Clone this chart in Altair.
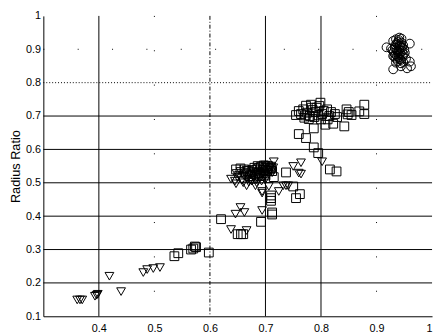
import altair as alt
import pandas as pd

# ---- data: circles ----
circ_x = [0.930, 0.935, 0.940, 0.945, 0.938, 0.942, 0.933, 0.948, 0.936, 0.941,
          0.944, 0.931, 0.939, 0.946, 0.934, 0.943, 0.937, 0.950, 0.929, 0.940,
          0.947, 0.935, 0.942, 0.938, 0.944, 0.932, 0.949, 0.936, 0.941, 0.945,
          0.939, 0.934, 0.943, 0.937, 0.951, 0.930, 0.946, 0.940, 0.935, 0.944,
          0.930, 0.944, 0.955, 0.962, 0.960, 0.960, 0.918, 0.926, 0.953, 0.948]
circ_y = [0.925, 0.930, 0.928, 0.920, 0.915, 0.910, 0.905, 0.912, 0.900, 0.898,
          0.905, 0.890, 0.892, 0.895, 0.885, 0.888, 0.880, 0.900, 0.898, 0.876,
          0.880, 0.872, 0.870, 0.865, 0.868, 0.878, 0.885, 0.918, 0.935, 0.932,
          0.922, 0.912, 0.915, 0.895, 0.890, 0.880, 0.905, 0.886, 0.860, 0.858,
          0.840, 0.849, 0.843, 0.849, 0.863, 0.917, 0.906, 0.902, 0.872, 0.862]

# ---- data: squares ----
sq_x = [0.764, 0.755, 0.773, 0.782, 0.799, 0.811, 0.802, 0.778, 0.787, 0.808,
        0.822, 0.842, 0.846, 0.855, 0.878, 0.878, 0.869, 0.825, 0.829, 0.760,
        0.768, 0.775, 0.780, 0.785, 0.790, 0.795, 0.792, 0.770, 0.800, 0.805,
        0.815, 0.818, 0.797, 0.783, 0.850, 0.848, 0.772, 0.788, 0.812,
        0.760, 0.773, 0.787, 0.795, 0.816, 0.828, 0.737, 0.750, 0.762, 0.755,
        0.715, 0.710, 0.710, 0.710, 0.712, 0.712, 0.692, 0.620, 0.650, 0.656,
        0.660, 0.570, 0.575, 0.566, 0.573, 0.598, 0.536, 0.543,
        0.647, 0.655, 0.662, 0.668, 0.675, 0.680, 0.685, 0.688, 0.692, 0.695,
        0.698, 0.700, 0.703, 0.705, 0.708, 0.690, 0.682, 0.672, 0.700, 0.710,
        0.697, 0.686, 0.665, 0.712, 0.678]
sq_y = [0.706, 0.703, 0.731, 0.734, 0.740, 0.720, 0.706, 0.691, 0.663, 0.674,
        0.677, 0.669, 0.720, 0.703, 0.734, 0.706, 0.714, 0.706, 0.697, 0.715,
        0.720, 0.710, 0.700, 0.718, 0.712, 0.702, 0.725, 0.695, 0.690, 0.715,
        0.700, 0.712, 0.730, 0.725, 0.712, 0.705, 0.702, 0.697, 0.690,
        0.646, 0.634, 0.606, 0.589, 0.540, 0.534, 0.531, 0.489, 0.466, 0.454,
        0.517, 0.454, 0.446, 0.462, 0.411, 0.405, 0.383, 0.391, 0.346, 0.346,
        0.346, 0.303, 0.307, 0.300, 0.309, 0.291, 0.280, 0.289,
        0.540, 0.543, 0.540, 0.535, 0.532, 0.545, 0.540, 0.530, 0.548, 0.538,
        0.528, 0.545, 0.535, 0.550, 0.540, 0.520, 0.525, 0.520, 0.522, 0.545,
        0.552, 0.550, 0.528, 0.535, 0.512]

# ---- data: triangles ----
tri_x = [0.638, 0.645, 0.650, 0.655, 0.652, 0.658, 0.662, 0.665, 0.668, 0.672,
         0.675, 0.678, 0.680, 0.683, 0.686, 0.689, 0.691, 0.694, 0.697, 0.699,
         0.702, 0.704, 0.706, 0.708, 0.710, 0.712, 0.714, 0.660, 0.670, 0.684,
         0.693, 0.700, 0.648, 0.666, 0.676, 0.688, 0.700, 0.647, 0.666, 0.682,
         0.715, 0.750, 0.764, 0.764, 0.760, 0.741, 0.706, 0.694, 0.724, 0.732,
         0.737, 0.694, 0.802, 0.655, 0.646, 0.662, 0.694, 0.638, 0.666,
         0.361, 0.370, 0.366, 0.393, 0.396, 0.398, 0.419, 0.440, 0.480, 0.487,
         0.498, 0.510]
tri_y = [0.511, 0.505, 0.515, 0.534, 0.522, 0.508, 0.520, 0.530, 0.512, 0.525,
         0.505, 0.518, 0.530, 0.510, 0.522, 0.535, 0.515, 0.528, 0.540, 0.520,
         0.532, 0.545, 0.525, 0.538, 0.550, 0.530, 0.545, 0.500, 0.502, 0.500,
         0.505, 0.510, 0.528, 0.538, 0.540, 0.545, 0.553, 0.497, 0.491, 0.491,
         0.563, 0.549, 0.560, 0.526, 0.529, 0.491, 0.489, 0.474, 0.474, 0.491,
         0.491, 0.469, 0.563, 0.426, 0.406, 0.411, 0.417, 0.360, 0.357,
         0.149, 0.149, 0.149, 0.160, 0.163, 0.166, 0.220, 0.174, 0.231, 0.240,
         0.243, 0.246]

# ---- reference lines ----
vsolid = [0.4, 0.7, 0.8]
vdashdot = [0.6]
vdots = [0.5, 0.9]
hsolid = [0.2, 0.3, 0.4, 0.5, 0.6, 0.7]
hdotted = [0.8]
hdots = [0.9]

x_ticks = [0.4, 0.5, 0.6, 0.7, 0.8, 0.9, 1.0]
y_ticks = [0.1, 0.2, 0.3, 0.4, 0.5, 0.6, 0.7, 0.8, 0.9, 1.0]

XMIN, XMAX, YMIN, YMAX = 0.3, 1.0, 0.1, 1.0

xs = alt.Scale(domain=[XMIN, XMAX], nice=False, zero=False)
ys = alt.Scale(domain=[YMIN, YMAX], nice=False, zero=False)
xax = alt.Axis(values=x_ticks, format="~g", title=None, labelPadding=6)
yax = alt.Axis(values=y_ticks, format="~g", title="Radius Ratio",
               labelPadding=3, titlePadding=3)


def X(field="x"):
    return alt.X(f"{field}:Q", scale=xs, axis=xax)


def Y(field="y"):
    return alt.Y(f"{field}:Q", scale=ys, axis=yax)


def vrule(vals, dash):
    df = pd.DataFrame({"x": vals, "y": [YMAX] * len(vals), "y2": [YMIN] * len(vals)})
    kw = {"color": "black", "strokeWidth": 1}
    if dash:
        kw["strokeDash"] = dash
    return alt.Chart(df).mark_rule(**kw).encode(x=X(), y=Y(), y2="y2:Q")


def hrule(vals, dash):
    df = pd.DataFrame({"y": vals, "x": [XMIN] * len(vals), "x2": [XMAX] * len(vals)})
    kw = {"color": "black", "strokeWidth": 1}
    if dash:
        kw["strokeDash"] = dash
    return alt.Chart(df).mark_rule(**kw).encode(y=Y(), x=X(), x2="x2:Q")


def pts(xv, yv, shape):
    df = pd.DataFrame({"x": xv, "y": yv})
    return alt.Chart(df).mark_point(
        shape=shape, filled=False, color="black", size=80, strokeWidth=1, opacity=1
    ).encode(x=X(), y=Y())


chart = alt.layer(
    vrule(vsolid, None),
    vrule(vdashdot, [4, 2, 1, 2]),
    vrule(vdots, [1, 34]),
    hrule(hsolid, None),
    hrule(hdotted, [1, 2]),
    hrule(hdots, [1, 34]),
    pts(circ_x, circ_y, "circle"),
    pts(sq_x, sq_y, "square"),
    pts(tri_x, tri_y, "triangle-down"),
).properties(
    width=396, height=306,
    padding={"left": 36, "top": 5, "right": 3, "bottom": 16},
    autosize=alt.AutoSizeParams(type="none"),
    background="white",
).configure_view(stroke=None).configure_axis(
    domainColor="black", domainWidth=1, ticks=False, grid=False,
    labelFont="Liberation Sans", labelFontSize=11, labelColor="black",
    titleFont="Liberation Sans", titleFontSize=13, titleFontWeight="normal",
    titleColor="black",
)

chart.save("out.html", embed_options={"renderer": "svg", "actions": False})
